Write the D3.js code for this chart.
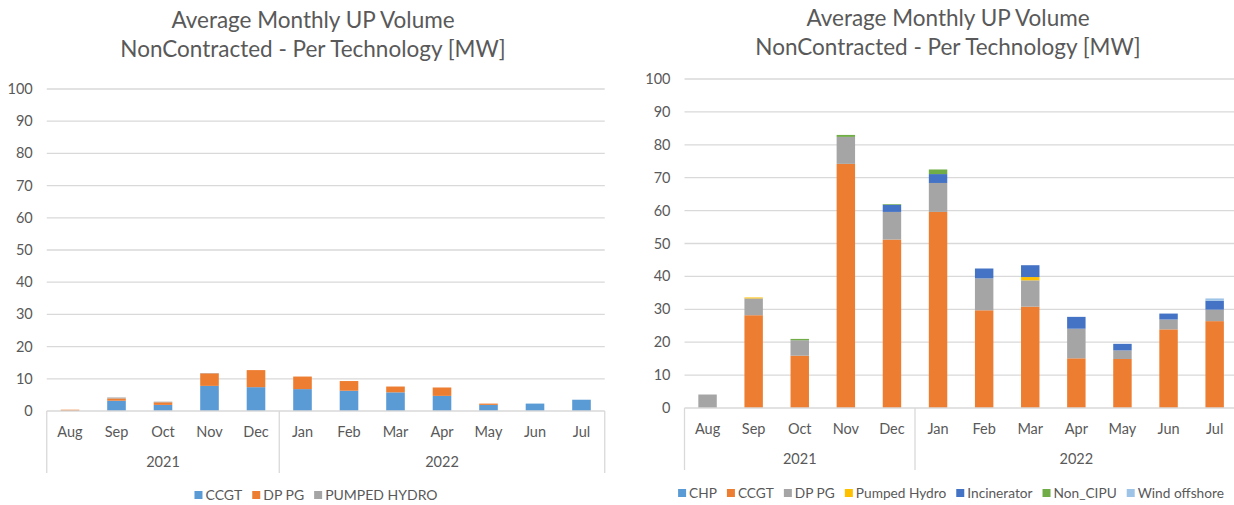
<!DOCTYPE html>
<html>
<head>
<meta charset="utf-8"/>
<title>Average Monthly UP Volume</title>
<script src="https://d3js.org/d3.v7.min.js"></script>
<style>
  body { margin: 0; background: #fff; }
  text { font-family: Lato, "Open Sans", sans-serif; fill: #595959; }
</style>
</head>
<body>
<div id="output"></div>
<script>
// months and years on the two-level category axis
var months = ["Aug", "Sep", "Oct", "Nov", "Dec", "Jan", "Feb", "Mar", "Apr", "May", "Jun", "Jul"];
var yearLabels = ["2021", "2022"];
var yearMonthCounts = [5, 7];
var yTicks = [0, 10, 20, 30, 40, 50, 60, 70, 80, 90, 100];

// left chart series
var leftNames = ["CCGT", "DP PG", "PUMPED HYDRO"];
var leftCCGT = [0, 3.2, 1.9, 7.8, 7.4, 6.8, 6.3, 5.8, 4.7, 1.9, 2.3, 3.5];
var leftDPPG = [0.4, 0.7, 0.8, 3.9, 5.3, 3.9, 3.0, 1.8, 2.6, 0.4, 0, 0];
var leftPumpedHydro = [0, 0.3, 0.2, 0.1, 0, 0, 0, 0, 0, 0, 0, 0];

// right chart series
var rightNames = ["CHP", "CCGT", "DP PG", "Pumped Hydro", "Incinerator", "Non_CIPU", "Wind offshore"];
var rightCHP = [0, 0, 0, 0, 0, 0, 0, 0, 0, 0, 0, 0];
var rightCCGT = [0, 28.2, 15.9, 74.2, 51.2, 59.6, 29.7, 30.8, 15.1, 14.9, 23.9, 26.4];
var rightDPPG = [4.1, 5.1, 4.7, 8.2, 8.4, 8.8, 9.7, 8.0, 9.0, 2.6, 3.0, 3.5];
var rightPumpedHydro = [0, 0.3, 0, 0, 0, 0, 0, 1.0, 0, 0, 0, 0];
var rightIncinerator = [0, 0, 0, 0, 2.2, 2.7, 3.0, 3.6, 3.6, 2.0, 1.8, 2.7];
var rightNonCIPU = [0, 0, 0.4, 0.6, 0.2, 1.4, 0, 0, 0, 0, 0, 0];
var rightWindOffshore = [0, 0, 0, 0, 0, 0, 0, 0, 0, 0, 0, 0.7];

var svg = d3.select("#output").append("svg")
    .attr("width", 1234)
    .attr("height", 505);

//build rows {month, series...} for d3.stack
function makeRows(names, arrays) {
    return months.map(function(m, i) {
        var row = {month: m};
        names.forEach(function(n, k) { row[n] = arrays[k][i]; });
        return row;
    });
}

function drawChart(opt) {
    var g = svg.append("g");

    var x = d3.scaleBand()
        .domain(months)
        .range([opt.x0, opt.x1])
        .paddingInner(0.6)
        .paddingOuter(0.3);
    var step = x.step();

    var y = d3.scaleLinear()
        .domain([0, 100])
        .range([opt.yBottom, opt.yTop]);

    //gridlines
    g.selectAll(".grid")
        .data(yTicks.slice(1))
        .enter().append("line")
        .attr("x1", opt.x0).attr("x2", opt.x1)
        .attr("y1", function(d) { return y(d); })
        .attr("y2", function(d) { return y(d); })
        .style("stroke", "#d9d9d9")
        .style("stroke-width", 1.3);

    //y labels
    g.selectAll(".ylab")
        .data(yTicks)
        .enter().append("text")
        .attr("x", opt.x0 - 14)
        .attr("y", function(d) { return y(d) + 5; })
        .attr("text-anchor", "end")
        .style("font-size", "14.5px")
        .text(function(d) { return d; });

    //stacked bars
    var rows = makeRows(opt.names, opt.arrays);
    var stack = d3.stack().keys(opt.names)(rows);
    g.selectAll(".layer")
        .data(stack)
        .enter().append("g")
        .style("fill", function(d, i) { return opt.colors[i]; })
        .selectAll("rect")
        .data(function(d) { return d; })
        .enter().append("rect")
        .attr("x", function(d) { return x(d.data.month); })
        .attr("width", x.bandwidth())
        .attr("y", function(d) { return y(d[1]); })
        .attr("height", function(d) { return Math.max(0, y(d[0]) - y(d[1])); });

    //category axis line
    g.append("line")
        .attr("x1", opt.x0).attr("x2", opt.x1)
        .attr("y1", opt.yBottom).attr("y2", opt.yBottom)
        .style("stroke", "#d9d9d9")
        .style("stroke-width", 1.3);

    //month labels
    g.selectAll(".mlab")
        .data(months)
        .enter().append("text")
        .attr("x", function(d) { return x(d) + x.bandwidth() / 2; })
        .attr("y", opt.yBottom + 26)
        .attr("text-anchor", "middle")
        .style("font-size", "14.5px")
        .text(function(d) { return d; });

    //year groups: separators and labels
    var start = 0;
    var seps = [0];
    yearLabels.forEach(function(label, i) {
        var a = opt.x0 + start * step;
        var b = opt.x0 + (start + yearMonthCounts[i]) * step;
        g.append("text")
            .attr("x", (a + b) / 2)
            .attr("y", opt.yBottom + 56)
            .attr("text-anchor", "middle")
            .style("font-size", "14.5px")
            .text(label);
        start += yearMonthCounts[i];
        seps.push(start);
    });
    g.selectAll(".sep")
        .data(seps)
        .enter().append("line")
        .attr("x1", function(d) { return opt.x0 + d * step; })
        .attr("x2", function(d) { return opt.x0 + d * step; })
        .attr("y1", opt.yBottom)
        .attr("y2", opt.yBottom + 62)
        .style("stroke", "#d9d9d9")
        .style("stroke-width", 1.3);

    //title
    g.append("text")
        .attr("x", opt.titleX)
        .attr("y", opt.titleY)
        .attr("text-anchor", "middle")
        .style("font-size", "22.5px")
        .text("Average Monthly UP Volume");
    g.append("text")
        .attr("x", opt.titleX)
        .attr("y", opt.titleY + 29)
        .attr("text-anchor", "middle")
        .style("font-size", "22.5px")
        .text("NonContracted - Per Technology [MW]");

    //legend: measure items then center
    var leg = g.append("g");
    var cx = 0;
    opt.names.forEach(function(n, i) {
        leg.append("rect")
            .attr("x", cx).attr("y", -9)
            .attr("width", 8).attr("height", 8)
            .style("fill", opt.colors[i]);
        var t = leg.append("text")
            .attr("x", cx + 11)
            .attr("y", 0)
            .style("font-size", opt.legendSize)
            .text(n);
        cx += 11 + t.node().getComputedTextLength() + 10;
    });
    cx -= 10;
    leg.attr("transform", "translate(" + (opt.legendX - cx / 2) + "," + opt.legendY + ")");
}

drawChart({
    x0: 46.75, x1: 604.75, yBottom: 411, yTop: 89,
    names: leftNames,
    arrays: [leftCCGT, leftDPPG, leftPumpedHydro],
    colors: ["#5b9bd5", "#ed7d31", "#a5a5a5"],
    titleX: 313, titleY: 28,
    legendX: 316, legendY: 500, legendSize: "14px"
});

drawChart({
    x0: 684.5, x1: 1237.7, yBottom: 408, yTop: 79,
    names: rightNames,
    arrays: [rightCHP, rightCCGT, rightDPPG, rightPumpedHydro, rightIncinerator, rightNonCIPU, rightWindOffshore],
    colors: ["#5b9bd5", "#ed7d31", "#a5a5a5", "#ffc000", "#4472c4", "#70ad47", "#9dc3e6"],
    titleX: 948, titleY: 26,
    legendX: 951, legendY: 498, legendSize: "13.7px"
});
</script>
</body>
</html>
